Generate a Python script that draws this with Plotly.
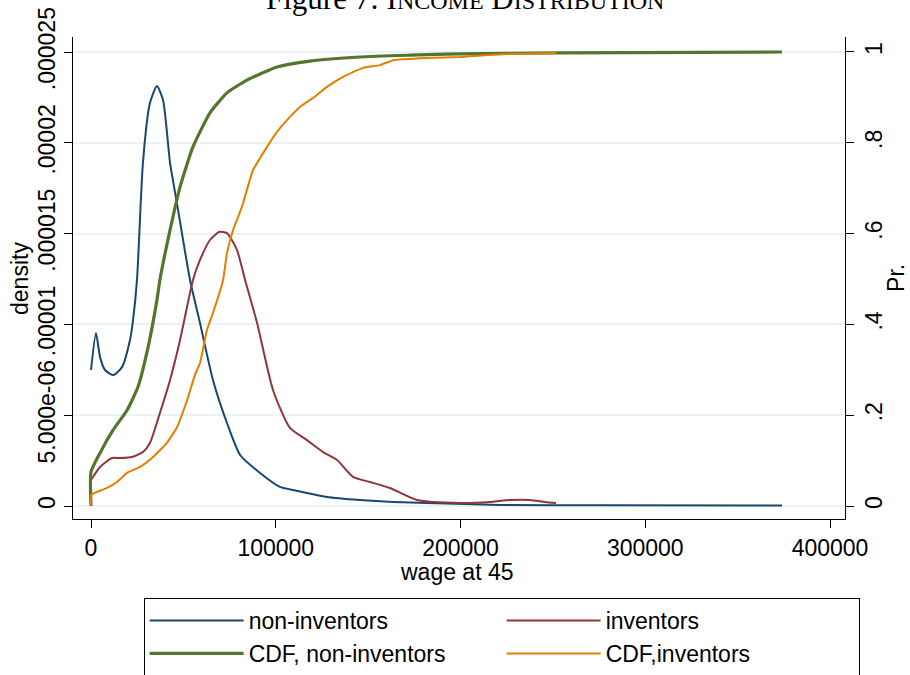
import plotly.graph_objects as go

# ---- data ----
noninv_wage = [0, 2700, 4900, 7600, 11900, 16800, 21100, 22700, 24900, 28100, 31900, 35700, 39000,
               42800, 46500, 53600, 59000, 66000, 73600, 80700, 91500, 102300, 109300, 116900,
               127700, 145600, 163500, 181900, 221400, 280000, 374000]
noninv_dens = [7.49e-6, 9.53e-6, 8.2e-6, 7.49e-6, 7.21e-6, 7.65e-6, 9.14e-6, 1.02e-5, 1.245e-5,
               1.889e-5, 2.219e-5, 2.313e-5, 2.236e-5, 1.889e-5, 1.668e-5, 1.245e-5, 1.008e-5,
               6.94e-6, 4.57e-6, 2.81e-6, 1.82e-6, 1.05e-6, 8.8e-7, 7.2e-7, 5.0e-7, 3.3e-7,
               2.2e-7, 1.65e-7, 5.5e-8, 4e-8, 3e-8]

inv_wage = [0, 4900, 11400, 15700, 22200, 28100, 31900, 37300, 42800, 48200, 55200, 59000, 64400,
            69300, 73600, 79000, 83400, 89900, 98500, 107700, 116900, 125600, 133200, 141800,
            151000, 161800, 176500, 199700, 216000, 226800, 237600, 245700, 251700]
inv_dens = [1.43e-6, 2.15e-6, 2.64e-6, 2.64e-6, 2.70e-6, 2.97e-6, 3.47e-6, 5.12e-6, 6.94e-6,
            9.14e-6, 1.245e-5, 1.355e-5, 1.465e-5, 1.509e-5, 1.503e-5, 1.410e-5, 1.245e-5,
            1.008e-5, 6.39e-6, 4.30e-6, 3.63e-6, 2.97e-6, 2.53e-6, 1.60e-6, 1.32e-6, 9.9e-7,
            3.3e-7, 1.65e-7, 2.2e-7, 3.3e-7, 3.3e-7, 2.2e-7, 1.65e-7]

cdf_noninv_wage = [0, 0, 4900, 11900, 19500, 25400, 30900, 35700, 37300, 42800, 48200, 55200,
                   64400, 73600, 84400, 100700, 118500, 145600, 172700, 199700, 253900, 374000]
cdf_noninv = [0, 0.075, 0.117, 0.167, 0.211, 0.262, 0.350, 0.454, 0.498, 0.608, 0.703, 0.791,
              0.866, 0.910, 0.938, 0.967, 0.980, 0.989, 0.993, 0.996, 0.998, 1.0]

cdf_inv_wage = [0, 0, 3200, 8700, 14100, 19500, 26500, 33600, 41100, 46600, 52000, 56300, 59000,
                62800, 66000, 71500, 73600, 76900, 81700, 87700, 95300, 100700, 107700, 113100,
                120200, 127700, 136400, 147200, 156400, 163500, 181900, 199700, 226800, 251700]
cdf_inv = [0, 0.024, 0.031, 0.040, 0.053, 0.073, 0.086, 0.108, 0.139, 0.174, 0.233, 0.289, 0.315,
           0.388, 0.425, 0.498, 0.557, 0.608, 0.659, 0.740, 0.791, 0.824, 0.857, 0.879, 0.899,
           0.923, 0.945, 0.965, 0.971, 0.982, 0.987, 0.989, 0.996, 0.998]

x_ticks = [0, 100000, 200000, 300000, 400000]
x_labels = ["0", "100000", "200000", "300000", "400000"]
y_ticks = [0, 5e-6, 1e-5, 1.5e-5, 2e-5, 2.5e-5]
y_labels = ["0", "5.000e-06", ".00001", ".000015", ".00002", ".000025"]
y2_ticks = [0, 0.2, 0.4, 0.6, 0.8, 1.0]
y2_labels = ["0", ".2", ".4", ".6", ".8", "1"]

NAVY = "#1a476f"
MAROON = "#90353b"
GREEN = "#55752f"
ORANGE = "#e37e00"
FONT = "Liberation Sans, Arial, sans-serif"

fig = go.Figure()
fig.add_trace(go.Scatter(x=noninv_wage, y=noninv_dens, mode="lines", name="non-inventors",
                         line=dict(color=NAVY, width=2, shape="spline", smoothing=0.6)))
fig.add_trace(go.Scatter(x=inv_wage, y=inv_dens, mode="lines", name="inventors",
                         line=dict(color=MAROON, width=2, shape="spline", smoothing=0.6)))
fig.add_trace(go.Scatter(x=cdf_noninv_wage, y=cdf_noninv, mode="lines", name="CDF, non-inventors",
                         yaxis="y2", line=dict(color=GREEN, width=3.2, shape="spline", smoothing=0.5)))
fig.add_trace(go.Scatter(x=cdf_inv_wage, y=cdf_inv, mode="lines", name="CDF,inventors",
                         yaxis="y2", line=dict(color=ORANGE, width=2, shape="spline", smoothing=0.4)))

axis_common = dict(showline=True, linecolor="black", linewidth=1, ticks="outside", ticklen=8,
                   tickcolor="black", tickwidth=1, zeroline=False,
                   tickfont=dict(family=FONT, size=23, color="black"))

fig.update_layout(
    width=910, height=675,
    margin=dict(l=73, r=65, t=37, b=156, autoexpand=False),
    paper_bgcolor="white", plot_bgcolor="white",
    showlegend=True,
    xaxis=dict(range=[-9743, 408119], tickvals=x_ticks, ticktext=x_labels, showgrid=False,
               **axis_common),
    yaxis=dict(range=[-7.16e-7, 2.583e-5], tickvals=y_ticks, ticktext=y_labels, tickangle=-90,
               showgrid=True, gridcolor="#eaf2f3", gridwidth=2, **axis_common),
    yaxis2=dict(range=[-0.0286, 1.033], tickvals=y2_ticks, ticktext=y2_labels, tickangle=-90,
                overlaying="y", side="right", showgrid=False, **axis_common),
    legend=dict(orientation="h", x=0.0915, y=-0.164, xanchor="left", yanchor="top",
                bordercolor="black", borderwidth=1, bgcolor="white",
                font=dict(family=FONT, size=23, color="black"),
                itemwidth=94, entrywidth=248, entrywidthmode="pixels"),
    annotations=[
        dict(text="density", xref="paper", yref="paper", x=-0.0687, y=0.5, textangle=-90,
             xanchor="center", yanchor="middle",
             showarrow=False, font=dict(family=FONT, size=23, color="black")),
        dict(text="Pr.", xref="paper", yref="paper", x=1.066, y=0.5, textangle=-90,
             xanchor="center", yanchor="middle",
             showarrow=False, font=dict(family=FONT, size=23, color="black")),
        dict(text="wage at 45", xref="paper", yref="paper", x=0.497, y=-0.11,
             xanchor="center", yanchor="middle",
             showarrow=False, font=dict(family=FONT, size=23, color="black")),
        dict(text="Figure 7: I<span style='font-size:24px'>NCOME</span> D<span style='font-size:24px'>ISTRIBUTION</span>",
             xref="paper", yref="paper", x=0.508, y=1.12, xanchor="center", yanchor="top",
             showarrow=False,
             font=dict(family="Liberation Serif, DejaVu Serif, serif", size=31, color="black")),
    ],
)

fig.write_html("out.html", config={"displayModeBar": False},
               post_script="document.body.style.margin='0px';")
